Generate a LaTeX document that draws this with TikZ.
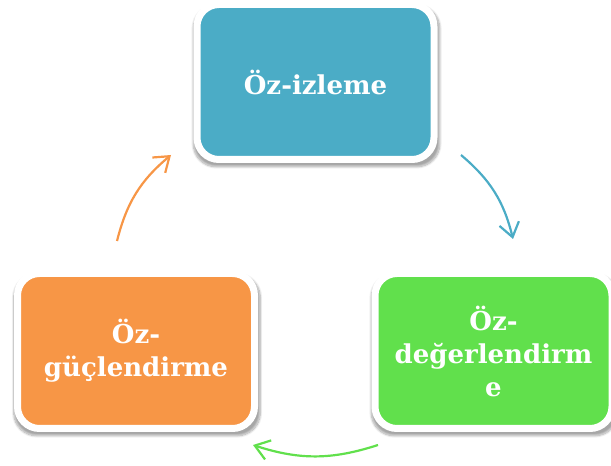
\documentclass[tikz,border=0pt]{standalone}
\usepackage{fontspec}
\setmainfont{DejaVu Serif}
\usetikzlibrary{arrows.meta, shadows.blur}
\definecolor{mavi}{HTML}{4BACC6}
\definecolor{yesil}{HTML}{61E04C}
\definecolor{turuncu}{HTML}{F79646}

\begin{document}
\begin{tikzpicture}[x=1pt, y=1pt]
        \useasboundingbox (0,0) rectangle (611,466);

        % Kutuları çiz.
        \tikzstyle{kutu} = [draw=white, line width=7pt, rounded corners=22pt,
            minimum width=237pt, minimum height=155pt, align=center, text=white,
            font=\fontsize{26}{33}\selectfont\bfseries,
            blur shadow={shadow xshift=1pt, shadow yshift=-4pt, shadow scale=1.04,
                shadow blur steps=10, shadow opacity=35}]
        \node[kutu, fill=mavi   ] (izleme)       at (315.5,384) {Öz-izleme};
        \node[kutu, fill=yesil  ] (degerlendir)  at (493.5,115) {Öz-\\değerlendirm\\e};
        \node[kutu, fill=turuncu] (guclendir)    at (136,115)   {Öz-\\güçlendirme};

        % Okların uçları.
        \coordinate (i1) at (461,311);
        \coordinate (d1) at (513,227);
        \coordinate (d2) at (378,21);
        \coordinate (g1) at (253,21);
        \coordinate (g2) at (117,225);
        \coordinate (i2) at (171,311);

        % Okları çiz.
        \tikzstyle{ok} = [-{Straight Barb[length=14pt, width=20pt]}, line width=2.2pt, bend left=18]
        \path[ok]
            (i1) edge[mavi   ] (d1)
            (d2) edge[yesil  ] (g1)
            (g2) edge[turuncu] (i2);
    \end{tikzpicture}
\end{document}
